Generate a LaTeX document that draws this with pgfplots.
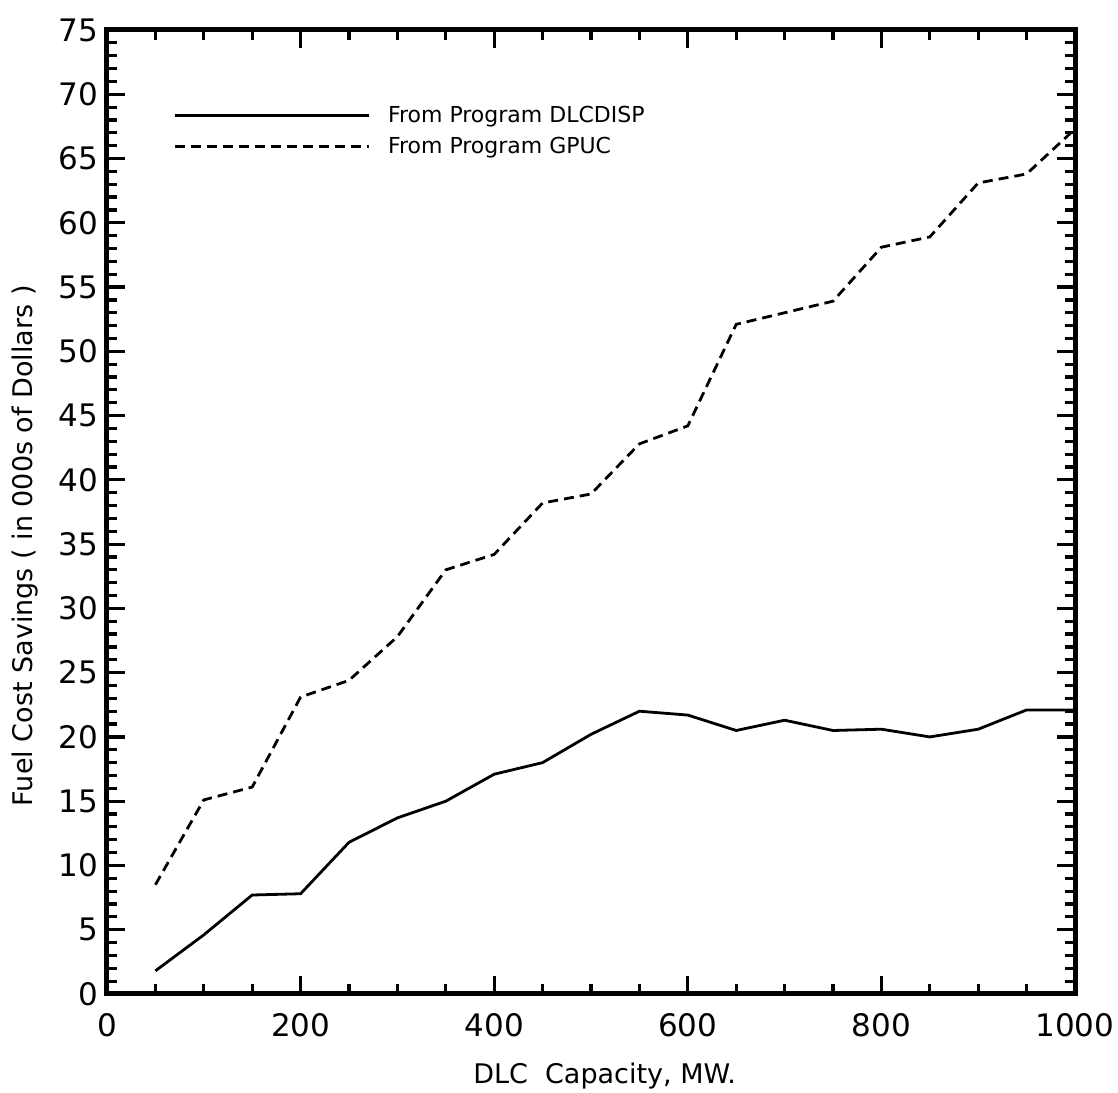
\documentclass[border=0pt]{standalone}
\usepackage{fontspec}
\setmainfont{DejaVu Sans}
\usepackage{pgfplots}
\pgfplotsset{compat=1.18}

\begin{document}
\begin{tikzpicture}
\begin{axis}[
name=ax,
width=484pt,height=482pt,
scale only axis,
xmin=0,xmax=1000,ymin=0,ymax=75,
xtick={0,200,...,1000},
ytick={0,5,...,75},
minor x tick num=3,
minor y tick num=4,
tick align=inside,
major tick length=9pt,
minor tick length=5pt,
every tick/.style={line width=1.6pt,black},
axis line style={line width=2.5pt},
/pgf/number format/assume math mode=true,
/pgf/number format/1000 sep={},
ticklabel style={font=\fontsize{15.5}{15.5}\selectfont},
xticklabel style={yshift=-6pt},
yticklabel style={xshift=-1pt},
xlabel={DLC\ \ Capacity, MW.},
ylabel={Fuel Cost Savings ( in 000s of Dollars )},
label style={font=\fontsize{13.5}{13.5}\selectfont},
xlabel style={at={(axis description cs:0.514,-0.085)},anchor=center},
ylabel style={at={(axis description cs:-0.085,0.465)},anchor=center},
legend style={at={(axis description cs:0.068,0.895)},anchor=west,
  draw=none,fill=none,font=\fontsize{11}{11}\selectfont,
  row sep=2pt,inner sep=0pt},
legend cell align=left,
legend image code/.code={\draw[#1] (0pt,0pt) -- (97pt,0pt); \path (104pt,0pt);},
]
\addplot[black,line width=1.4pt] coordinates {
(50,1.8) (100,4.6) (150,7.7) (200,7.8) (250,11.8) (300,13.7) (350,15.0)
(400,17.1) (450,18.0) (500,20.2) (550,22.0) (600,21.7) (650,20.5) (700,21.3)
(750,20.5) (800,20.6) (850,20.0) (900,20.6) (950,22.1) (1000,22.1)
};
\addlegendentry{From Program DLCDISP}
\addplot[black,line width=1.4pt,dash pattern=on 5pt off 3pt] coordinates {
(50,8.5) (100,15.1) (150,16.1) (200,23.1) (250,24.4) (300,27.8) (350,33.0)
(400,34.2) (450,38.2) (500,38.9) (550,42.8) (600,44.2) (650,52.1) (700,53.0)
(750,53.9) (800,58.1) (850,58.9) (900,63.1) (950,63.8) (1000,67.3)
};
\addlegendentry{From Program GPUC}
\end{axis}
\pgfresetboundingbox
\path[use as bounding box] ([shift={(-53.5pt,-49.5pt)}]ax.south west) rectangle ([shift={(21.5pt,15pt)}]ax.north east);
\end{tikzpicture}
\end{document}
